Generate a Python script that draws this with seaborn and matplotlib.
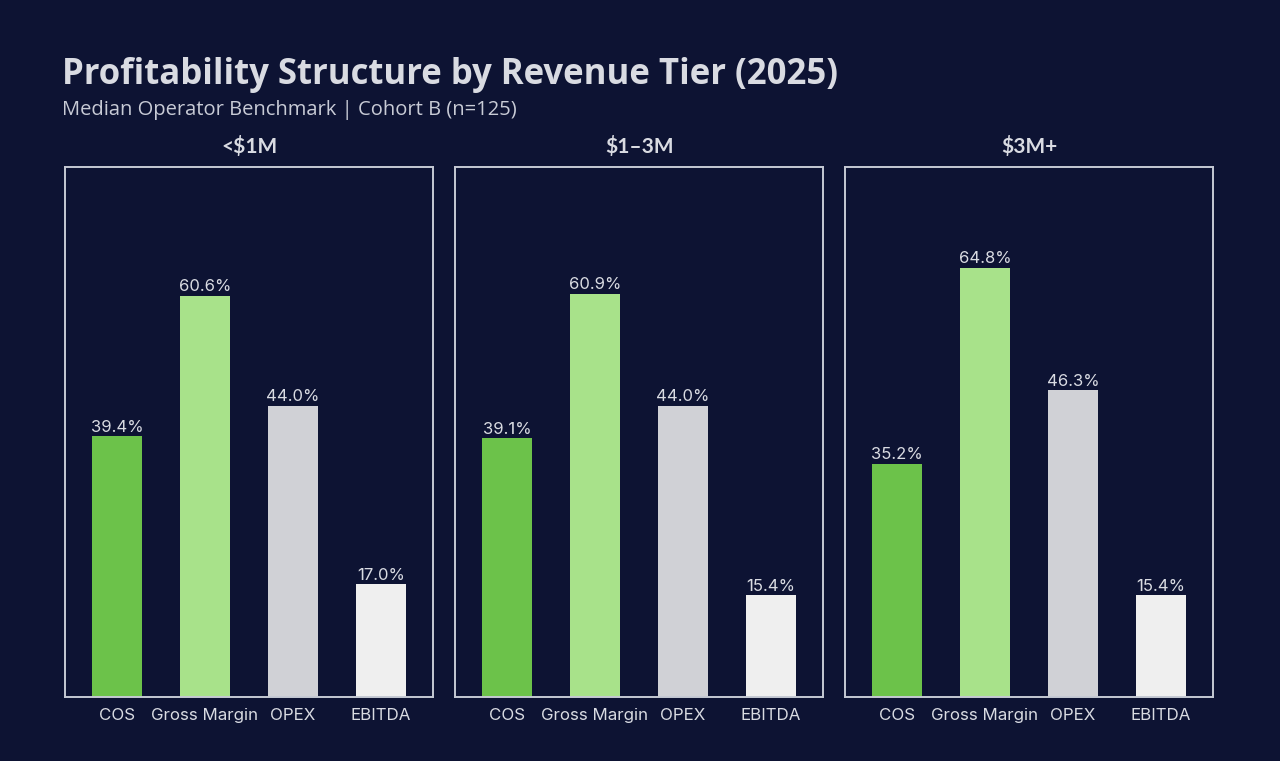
import matplotlib
matplotlib.use("Agg")
import matplotlib.pyplot as plt
import seaborn as sns
import pandas as pd

tiers = ["<$1M", "$1–3M", "$3M+"]
metrics = ["COS", "Gross Margin", "OPEX", "EBITDA"]
cos = [39.4, 39.1, 35.2]
gross_margin = [60.6, 60.9, 64.8]
opex = [44.0, 44.0, 46.3]
ebitda = [17.0, 15.4, 15.4]
colors = ["#6cc24a", "#a8e28a", "#d0d1d6", "#efefef"]

BG = "#0d1333"
FG = "#d9dbe2"

sns.set_theme(style="dark")
plt.rcParams["font.family"] = ["Inter", "DejaVu Sans"]

fig = plt.figure(figsize=(12.8, 7.61), dpi=100, facecolor=BG)
lefts = [65, 455, 845]
W, H = 1280, 761
series = [cos, gross_margin, opex, ebitda]
for i, tier in enumerate(tiers):
    ax = fig.add_axes([lefts[i] / W, (H - 697) / H, 368 / W, 530 / H])
    ax.set_facecolor(BG)
    df = pd.DataFrame({"metric": metrics, "value": [s[i] for s in series]})
    sns.barplot(data=df, x="metric", y="value", hue="metric", palette=colors,
                order=metrics, hue_order=metrics, width=0.57, legend=False, ax=ax,
                saturation=1, linewidth=0)
    ax.set_xlim(-0.59, 3.59)
    ax.set_ylim(0, 80)
    ax.set_yticks([])
    ax.set_xlabel("")
    ax.set_ylabel("")
    ax.grid(False)
    for sp in ax.spines.values():
        sp.set_visible(True)
        sp.set_color("#c5c9d4")
        sp.set_linewidth(1.4)
    ax.tick_params(axis="x", length=0, pad=8, labelsize=12.2, labelcolor=FG)
    for lbl in ax.get_xticklabels():
        lbl.set_fontfamily(["Inter", "DejaVu Sans"])
    for c in ax.containers:
        ax.bar_label(c, fmt="%.1f%%", padding=1, color=FG, fontsize=12)
    ax.set_title(tier, color=FG, fontsize=15, fontweight="bold",
                 fontfamily=["Lato", "DejaVu Sans"], pad=10)

fig.text(62 / W, 1 - 75 / H, "Profitability Structure by Revenue Tier (2025)",
         color=FG, fontsize=25, fontweight="bold", fontfamily=["Open Sans", "DejaVu Sans"],
         va="center", ha="left")
fig.text(62 / W, 1 - 110 / H, "Median Operator Benchmark | Cohort B (n=125)",
         color="#c8cbd6", fontsize=14.5, fontfamily=["Open Sans", "DejaVu Sans"],
         va="center", ha="left")

fig.savefig("out.png", dpi=100, facecolor=BG)
